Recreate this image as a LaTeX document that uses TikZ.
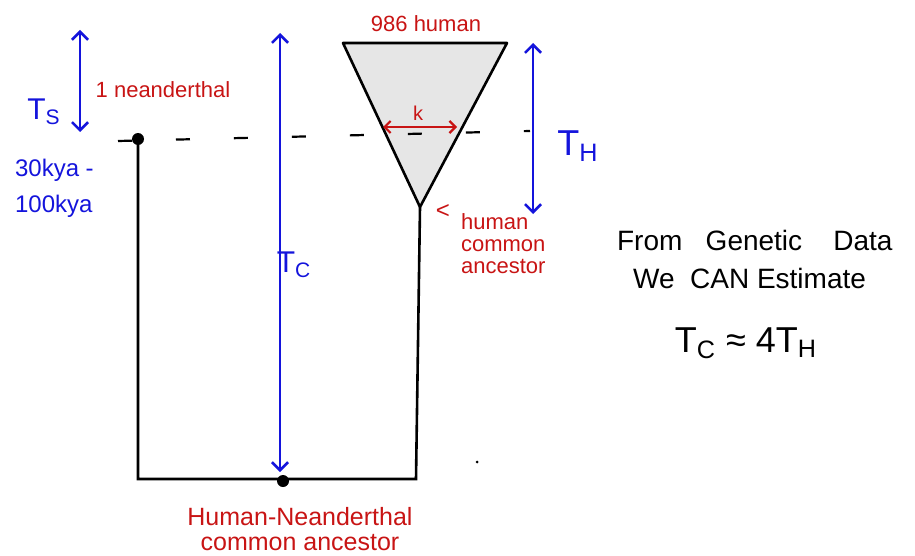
\documentclass[tikz,border=0pt]{standalone}
\usepackage{fontspec}
\setmainfont{Liberation Sans}
\usetikzlibrary{arrows.meta}
\definecolor{hred}{RGB}{200,20,20}
\definecolor{hblue}{RGB}{20,20,220}
\definecolor{tri}{RGB}{230,230,230}
\begin{document}
\begin{tikzpicture}[x=0.5pt,y=-0.5pt,
  tree/.style={line width=1.3pt,black},
  dim/.style={line width=1.3pt,hblue,{Straight Barb[length=4pt,width=8pt]}-{Straight Barb[length=4pt,width=8pt]}},
  redlbl/.style={text=hred,font=\fontsize{10}{12}\selectfont},
  bluelbl/.style={text=hblue,font=\fontsize{12}{15}\selectfont},
  blacklbl/.style={text=black,font=\fontsize{14}{16}\selectfont},
  blob/.style={circle,fill=black,inner sep=0pt,minimum size=6pt}]
\useasboundingbox (0,0) rectangle (915,556);
% tree coordinates
\coordinate (TL) at (343,43);
\coordinate (TR) at (507,43);
\coordinate (apex) at (420,207);
\coordinate (bl) at (138,479);
\coordinate (br) at (416,479);
\node[blob] (nean) at (138,139) {};
\node[blob] (hn) at (283,481) {};
% triangle
\filldraw[tree,fill=tri,line join=round] (TL) -- (TR) -- (apex) -- cycle;
% tree lines
\draw[tree] (nean.center) -- (bl) -- (br) -- (apex);
% dashed line
\coordinate (dl) at (118,141);
\coordinate (dr) at (530,131);
\draw[line width=1.1pt,dash pattern=on 7pt off 22pt] (dl) -- (dr);
% k arrow
\coordinate (kl) at (383,127);
\coordinate (kr) at (457,127);
\draw[line width=1.1pt,hred,{Straight Barb[length=3pt,width=6pt]}-{Straight Barb[length=3pt,width=6pt]}] (kl) -- (kr);
\node[redlbl] (k) at (418,113) {k};
% blue arrows
\coordinate (tsA) at (80,30);
\coordinate (tsB) at (80,132);
\draw[dim] (tsA) -- (tsB);
\node[bluelbl,font=\fontsize{15}{17}\selectfont] (ts) at (44,112) {T\textsubscript{S}};
\coordinate (tcA) at (280,33);
\coordinate (tcB) at (280,472);
\draw[dim] (tcA) -- (tcB);
\node[bluelbl,font=\fontsize{15}{17}\selectfont] (tc) at (294,265) {T\textsubscript{C}};
\coordinate (thA) at (533,43);
\coordinate (thB) at (533,214);
\draw[dim] (thA) -- (thB);
\node[bluelbl,font=\fontsize{18}{20}\selectfont] (th) at (578,146) {T\textsubscript{H}};
% labels
\node[redlbl,font=\fontsize{11}{13}\selectfont] (h986) at (426,24) {986 human};
\node[redlbl,font=\fontsize{11}{13}\selectfont] (n1) at (163,90) {1 neanderthal};
\node[bluelbl,align=left,anchor=west] (kya) at (8,188) {30kya -\\[3pt]100kya};
\node[redlbl,font=\fontsize{12}{12}\selectfont] (hca) at (443,212) {<};
\node[redlbl,align=left,anchor=north west,font=\fontsize{11}{11}\selectfont] (hcat) at (454,206) {human\\common\\ancestor};
\node[redlbl,align=center,font=\fontsize{12.5}{12.5}\selectfont] (hnca) at (300,529) {Human-Neanderthal\\common ancestor};
\node[blacklbl,anchor=west] (fg) at (610,240) {From\ \ \ Genetic\ \ \ \ Data};
\node[blacklbl,anchor=west] (we) at (626,278) {We\ \ CAN Estimate};
\node[blacklbl,font=\fontsize{18}{20}\selectfont] (eq) at (746,343) {T\textsubscript{C} ≈ 4T\textsubscript{H}};
\fill (477,462) circle (1.5);
\end{tikzpicture}
\end{document}
